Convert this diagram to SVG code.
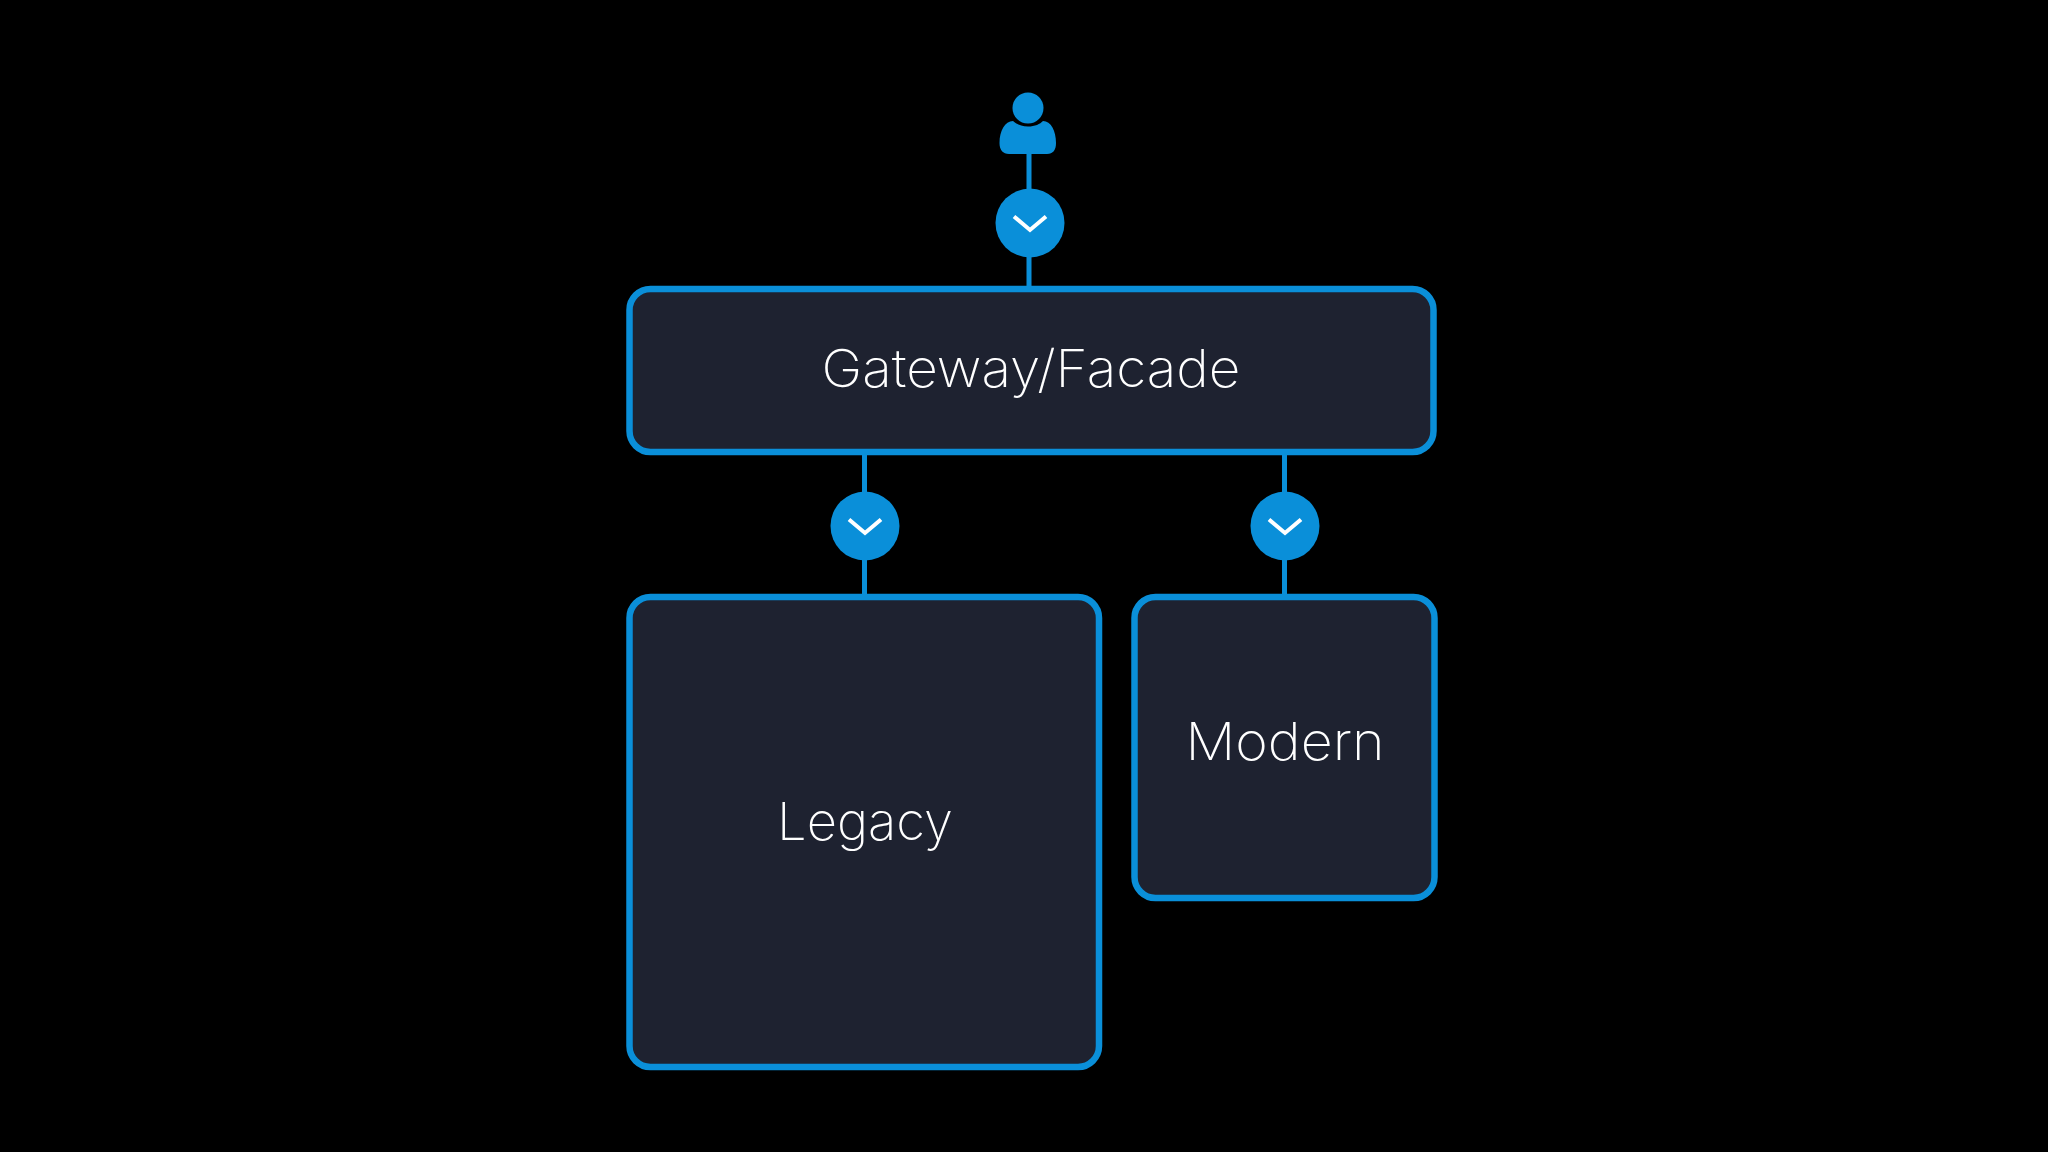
<svg xmlns="http://www.w3.org/2000/svg" width="2048" height="1152" viewBox="0 0 2048 1152">
<style>
.box{fill:#1e2230;stroke:#0a8fd9;stroke-width:6.5}
.lbl{font-family:Inter,"Noto Sans",sans-serif;font-weight:250;font-size:52px;fill:#fff;text-anchor:middle}
.link{stroke:#0a8fd9;stroke-width:5;fill:none}
.dot{fill:#0a8fd9}
.chev{fill:none;stroke:#fff;stroke-width:4}
.icon{fill:#0a8fd9}
</style>
<defs>
<g id="junction"><circle class="dot" r="34.5"/><path class="chev" d="M-16,-6.5 L0,7 L16,-6.5"/></g>
</defs>
<rect width="2048" height="1152" fill="#000"/>
<g id="connectors">
<path class="link" d="M1029,150V289"/>
<path class="link" d="M864.5,452V597"/>
<path class="link" d="M1284.5,452V597"/>
</g>
<g id="user" class="icon">
<circle cx="1028" cy="108" r="15.5"/>
<path d="M1013,121 C1016,124 1021,126.500 1028,126.500 C1035,126.500 1040,124 1043,121 C1051,121 1056,131 1056,143 C1056,150 1053,154 1047,154 H1009 C1003,154 999.500,150 999.500,143 C999.500,131 1005,121 1013,121 Z"/>
</g>
<g id="gateway">
<rect class="box" x="629.500" y="289" width="804" height="163" rx="21"/>
<text class="lbl" x="1031" y="387" textLength="419" lengthAdjust="spacingAndGlyphs">Gateway/Facade</text>
</g>
<g id="legacy">
<rect class="box" x="629.500" y="597" width="469.500" height="470" rx="21"/>
<text class="lbl" x="865" y="840" textLength="176" lengthAdjust="spacingAndGlyphs">Legacy</text>
</g>
<g id="modern">
<rect class="box" x="1134.500" y="597" width="300" height="301" rx="21"/>
<text class="lbl" x="1285" y="760" textLength="199" lengthAdjust="spacingAndGlyphs">Modern</text>
</g>
<g id="junction-top"><use href="#junction" x="1030" y="223"/></g>
<g id="junction-legacy"><use href="#junction" x="865" y="526"/></g>
<g id="junction-modern"><use href="#junction" x="1285" y="526"/></g>
</svg>
